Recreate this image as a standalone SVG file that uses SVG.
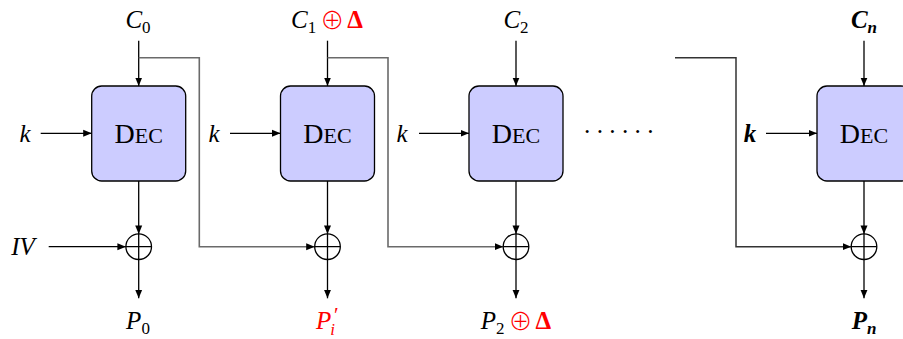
<svg xmlns="http://www.w3.org/2000/svg" width="903" height="339" viewBox="0 0 903 339">
<defs>
<marker id="ah" markerWidth="9" markerHeight="8" refX="8.5" refY="4" orient="auto" markerUnits="userSpaceOnUse">
<path d="M0,0.5 L8.5,4 L0,7.5 Z" fill="#000"/>
</marker>
<style>
.ln{stroke:#000;stroke-width:1.3;fill:none}
.ar{stroke:#000;stroke-width:1.3;fill:none;marker-end:url(#ah)}
.fb{stroke:#6a6a6a;stroke-width:1.6;fill:none;marker-end:url(#ah)}
.fbd{stroke:#333;stroke-width:1.5;fill:none;marker-end:url(#ah)}
.box{fill:#ccccff;stroke:#000;stroke-width:1.3}
.xor{fill:none;stroke:#000;stroke-width:1.3}
text{font-family:'Liberation Serif','Times New Roman',serif;font-size:25px;fill:#000}
.m{font-style:italic}
.b{font-weight:bold}
.sub{font-style:normal;font-size:17px}
.subi{font-style:italic;font-weight:bold;font-size:17px}
.red{fill:#ff0000}
.op{font-family:'Noto Sans CJK JP','DejaVu Sans',sans-serif;font-size:24px;font-style:normal;font-weight:300}
.dec{text-anchor:middle;font-size:28px}
.sc{font-size:22px}
</style>
</defs>
<rect width="903" height="339" fill="#fff"/>

<g id="connectors">
<line class="ar" x1="138.7" y1="40.7" x2="138.7" y2="86"/>
<line class="ar" x1="327.5" y1="40.7" x2="327.5" y2="86"/>
<line class="ar" x1="516" y1="40.7" x2="516" y2="86"/>
<line class="ar" x1="864" y1="40.7" x2="864" y2="86"/>
<line class="ar" x1="40.7" y1="133.3" x2="91.7" y2="133.3"/>
<line class="ar" x1="230" y1="133.3" x2="280.5" y2="133.3"/>
<line class="ar" x1="419" y1="133.3" x2="469" y2="133.3"/>
<line class="ar" x1="766" y1="133.3" x2="817" y2="133.3"/>
<line class="ar" x1="138.7" y1="181" x2="138.7" y2="233.9"/>
<line class="ar" x1="327.5" y1="181" x2="327.5" y2="233.9"/>
<line class="ar" x1="516" y1="181" x2="516" y2="233.9"/>
<line class="ar" x1="864" y1="181" x2="864" y2="233.9"/>
<line class="ar" x1="138.7" y1="259.5" x2="138.7" y2="298.3"/>
<line class="ar" x1="327.5" y1="259.5" x2="327.5" y2="298.3"/>
<line class="ar" x1="516" y1="259.5" x2="516" y2="298.3"/>
<line class="ar" x1="864" y1="259.5" x2="864" y2="298.3"/>
<line class="ar" x1="48.7" y1="246.7" x2="125.9" y2="246.7"/>
<path class="fb" d="M138.7 57.7 H199.3 V246.7 H314.7"/>
<path class="fb" d="M327.5 57.7 H388 V246.7 H503.2"/>
<path class="fbd" d="M675 57.7 H736 V246.7 H851.2"/>
</g>

<g id="dec0"><rect class="box" x="91.7" y="86" width="94" height="95" rx="10"/><text class="dec" x="138.7" y="143">D<tspan class="sc">EC</tspan></text></g>
<g id="dec1"><rect class="box" x="280.5" y="86" width="94" height="95" rx="10"/><text class="dec" x="327.5" y="143">D<tspan class="sc">EC</tspan></text></g>
<g id="dec2"><rect class="box" x="469" y="86" width="94" height="95" rx="10"/><text class="dec" x="516" y="143">D<tspan class="sc">EC</tspan></text></g>
<g id="decn"><rect class="box" x="817" y="86" width="94" height="95" rx="10"/><text class="dec" x="864" y="143">D<tspan class="sc">EC</tspan></text></g>

<g id="xor0"><circle class="xor" cx="138.7" cy="246.7" r="12.8"/><path class="ln" d="M125.9 246.7 H151.5 M138.7 233.9 V259.5"/></g>
<g id="xor1"><circle class="xor" cx="327.5" cy="246.7" r="12.8"/><path class="ln" d="M314.7 246.7 H340.3 M327.5 233.9 V259.5"/></g>
<g id="xor2"><circle class="xor" cx="516" cy="246.7" r="12.8"/><path class="ln" d="M503.2 246.7 H528.8 M516 233.9 V259.5"/></g>
<g id="xorn"><circle class="xor" cx="864" cy="246.7" r="12.8"/><path class="ln" d="M851.2 246.7 H876.8 M864 233.9 V259.5"/></g>

<g id="labels">
<text class="m" x="138" y="28" text-anchor="middle">C<tspan class="sub" dy="5">0</tspan></text>
<text x="327" y="28" text-anchor="middle"><tspan class="m">C</tspan><tspan class="sub" dy="5">1</tspan><tspan class="red op" dy="-4" dx="4">⊕</tspan><tspan class="red b" dy="-1" dx="3">Δ</tspan></text>
<text class="m" x="516" y="28" text-anchor="middle">C<tspan class="sub" dy="5">2</tspan></text>
<text class="m b" x="864" y="28" text-anchor="middle">C<tspan class="subi" dy="5">n</tspan></text>

<text class="m" x="25" y="141.5" text-anchor="middle">k</text>
<text class="m" x="214" y="141.5" text-anchor="middle">k</text>
<text class="m" x="402" y="141.5" text-anchor="middle">k</text>
<text class="m b" x="750" y="141.5" text-anchor="middle">k</text>
<text class="m" x="23" y="255" text-anchor="middle">IV</text>

<text x="621" y="140" text-anchor="middle" letter-spacing="4.3">······</text>

<text class="m" x="138" y="329" text-anchor="middle">P<tspan class="sub" dy="5">0</tspan></text>
<text class="m red" x="316" y="329">P<tspan font-size="17" dx="-1" dy="6">i</tspan><tspan font-size="21" font-style="normal" dx="-1" dy="-13">′</tspan></text>
<text x="516" y="329" text-anchor="middle"><tspan class="m">P</tspan><tspan class="sub" dy="5">2</tspan><tspan class="red op" dy="-4" dx="4">⊕</tspan><tspan class="red b" dy="-1" dx="3">Δ</tspan></text>
<text class="m b" x="864" y="329" text-anchor="middle">P<tspan class="subi" dy="5">n</tspan></text>
</g>
</svg>
